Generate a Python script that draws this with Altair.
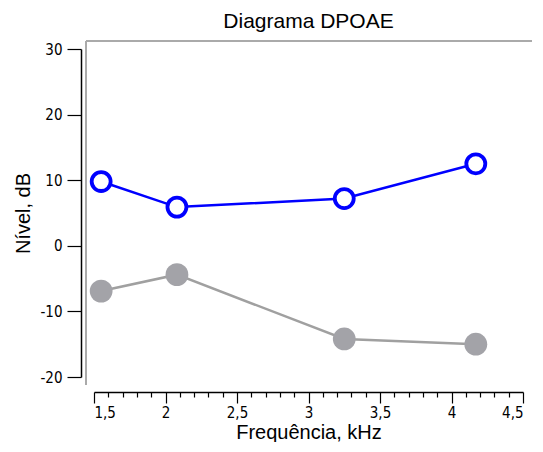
import altair as alt
import pandas as pd

# Data
freq = [1.55, 2.08, 3.25, 4.17]
dpoae = [9.8, 5.9, 7.2, 12.5]
noise = [-6.9, -4.4, -14.2, -15.0]

x_ticks = [round(1.5 + 0.1 * i, 1) for i in range(31)]
y_ticks = [-20, -10, 0, 10, 20, 30]

df = pd.DataFrame({
    "freq": freq * 2,
    "level": dpoae + noise,
    "series": ["DP"] * 4 + ["NF"] * 4,
})

W, H = 429, 328

major = "abs(datum.value*2 - round(datum.value*2)) < 0.001"
tick_font = "DejaVu Sans Condensed, DejaVu Sans"
title_font = "Liberation Sans, Arial"

x_enc = alt.X(
    "freq:Q",
    scale=alt.Scale(domain=[1.5, 4.5], nice=False, zero=False),
    axis=alt.Axis(
        title="Frequência, kHz",
        values=x_ticks,
        labelExpr=f"{major} ? replace(format(datum.value, '.1~f'), '.', ',') : ''",
        labelOverlap=False,
        tickSize={"condition": {"test": major, "value": 11}, "value": 5},
        tickColor="black",
        domainColor="black",
        domainWidth=1.5,
        tickWidth=1.2,
        offset=15,
        grid=False,
        labelFont=tick_font,
        labelFontSize=15,
        labelColor="black",
        labelPadding=2,
        titleFont=title_font,
        titleFontSize=20,
        titleFontWeight="normal",
        titleColor="black",
        titlePadding=2,
    ),
)
y_enc = alt.Y(
    "level:Q",
    scale=alt.Scale(domain=[-20, 30], nice=False, zero=False),
    axis=alt.Axis(
        title="Nível, dB",
        values=y_ticks,
        labelExpr="toString(datum.value)",
        tickSize=14,
        tickColor="black",
        domainColor="black",
        domainWidth=1.5,
        tickWidth=1.2,
        offset=13,
        grid=False,
        labelFont=tick_font,
        labelFontSize=15,
        labelColor="black",
        labelPadding=5,
        titleFont=title_font,
        titleFontSize=20,
        titleFontWeight="normal",
        titleColor="black",
        titlePadding=6,
    ),
)

base = alt.Chart(df).encode(x=x_enc, y=y_enc)

gray_line = base.transform_filter("datum.series == 'NF'").mark_line(
    color="#a0a0a0", strokeWidth=2.5
)
gray_pts = base.transform_filter("datum.series == 'NF'").mark_point(
    shape="circle", filled=True, color="#a3a3a8", size=520, opacity=1
)
blue_line = base.transform_filter("datum.series == 'DP'").mark_line(
    color="#0000ff", strokeWidth=2.5
)
blue_pts = base.transform_filter("datum.series == 'DP'").mark_point(
    shape="circle", filled=True, fill="white", stroke="#0000ff",
    strokeWidth=3.8, size=360, opacity=1
)

dummy = pd.DataFrame({"a": [0]})
frame_top = alt.Chart(dummy).mark_rule(color="#aaaaaa", strokeWidth=2).encode(
    x=alt.value(-8), x2=alt.value(W + 9), y=alt.value(-8)
)
frame_left = alt.Chart(dummy).mark_rule(color="#aaaaaa", strokeWidth=2).encode(
    x=alt.value(-8), y=alt.value(-8), y2=alt.value(H + 8)
)

chart = alt.layer(
    frame_top, frame_left, gray_line, gray_pts, blue_line, blue_pts
).properties(
    width=W,
    height=H,
    padding={"left": 5, "top": 3, "right": 0, "bottom": 0},
    title=alt.TitleParams(
        "Diagrama DPOAE", font=title_font, fontSize=21,
        fontWeight="normal", color="black", offset=8, anchor="middle"
    ),
).configure_view(stroke=None)

chart.save("out.html", embed_options={"renderer": "svg", "actions": False})
